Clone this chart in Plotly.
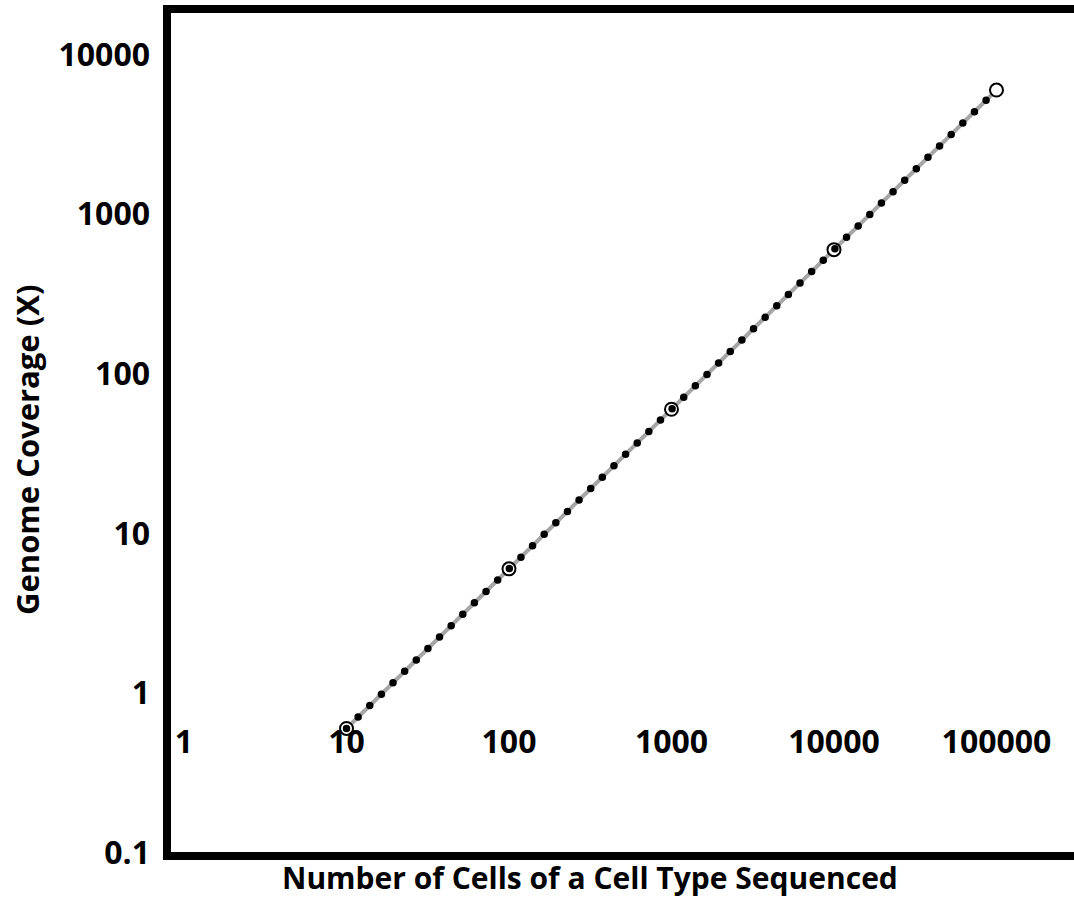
import plotly.graph_objects as go

# Sequencing depth per cell type
cells = [10, 100, 1000, 10000, 100000]
coverage = [0.6, 6, 60, 600, 6000]

x_tick_vals = [1, 10, 100, 1000, 10000, 100000]
x_tick_text = ["1", "10", "100", "1000", "10000", "100000"]
y_tick_vals = [0.1, 1, 10, 100, 1000, 10000]
y_tick_text = ["0.1", "1", "10", "100", "1000", "10000"]

x_title = "Number of Cells of a Cell Type Sequenced"
y_title = "Genome Coverage (X)"

FONT = "Open Sans"
tick_font = dict(family=FONT, size=32, color="black", weight="bold")
title_font = dict(family=FONT, size=31, color="black", weight="bold")
xtitle_font = dict(family=FONT, size=30, color="black", weight="bold")

fig = go.Figure()

# grey connecting line
fig.add_trace(go.Scatter(
    x=cells, y=coverage, mode="lines",
    line=dict(color="#a6a6a6", width=4),
    hoverinfo="skip", showlegend=False,
))
# open circle markers
fig.add_trace(go.Scatter(
    x=cells, y=coverage, mode="markers",
    marker=dict(symbol="circle", size=13, color="white",
                line=dict(color="black", width=2)),
    hoverinfo="skip", showlegend=False,
))
# round-dot black line on top
fig.add_trace(go.Scatter(
    x=cells, y=coverage, mode="lines", uid="rounddots",
    line=dict(color="black", width=7.5, dash="0px,16.3px"),
    hoverinfo="skip", showlegend=False,
))

fig.update_xaxes(
    type="log", range=[-0.1046, 5.477],
    anchor="free", position=0.161,
    tickvals=x_tick_vals, ticktext=x_tick_text, tickfont=tick_font,
    ticks="", showline=False, showgrid=False, zeroline=False,
)
fig.update_yaxes(
    type="log", range=[-1.021, 4.286],
    tickvals=y_tick_vals, ticktext=y_tick_text, tickfont=tick_font,
    ticks="", ticklabelstandoff=16,
    showline=False, showgrid=False, zeroline=False,
)

# heavy frame on the top, left and bottom edges
fig.add_shape(
    type="path", xref="paper", yref="paper",
    path="M 1.02 1 L 0 1 L 0 0 L 1.02 0",
    line=dict(color="black", width=8),
)

fig.add_annotation(
    text=y_title, xref="paper", yref="paper",
    x=-0.1544, y=0.4793, xanchor="center", yanchor="middle",
    textangle=-90, showarrow=False, font=title_font,
)
fig.add_annotation(
    text=x_title, xref="paper", yref="paper",
    x=0.4664, y=-0.0248, xanchor="center", yanchor="middle",
    showarrow=False, font=xtitle_font,
)

fig.update_layout(
    width=1074, height=897,
    margin=dict(l=167, r=0, t=9, b=41),
    paper_bgcolor="white", plot_bgcolor="white",
    hovermode=False,
)

css = (
    "var s=document.createElement('style');"
    "s.textContent='.tracerounddots path.js-line{stroke-linecap:round !important;}';"
    "document.head.appendChild(s);"
)
fig.write_html("out.html", post_script=css, config={"displayModeBar": False})
